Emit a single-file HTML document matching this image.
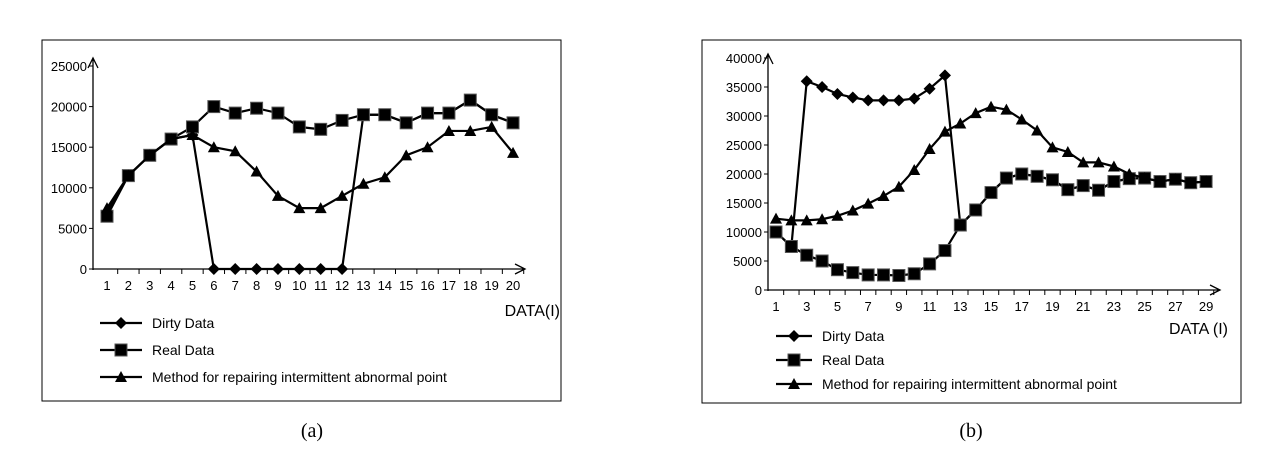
<!DOCTYPE html>
<html><head><meta charset="utf-8"><style>
body{margin:0;background:#fff;width:1283px;height:450px;overflow:hidden}
svg text{font-family:"Liberation Sans",sans-serif;fill:#000}
</style></head><body>
<svg id="s" width="1283" height="450" xmlns="http://www.w3.org/2000/svg">
<rect x="42" y="40" width="519" height="361" fill="none" stroke="#000" stroke-width="1"/>
<rect x="702" y="40" width="539" height="363" fill="none" stroke="#000" stroke-width="1"/>
<text x="312" y="437" font-size="20" text-anchor="middle" style="font-family:'Liberation Serif',serif">(a)</text>
<text x="971" y="437" font-size="20" text-anchor="middle" style="font-family:'Liberation Serif',serif">(b)</text>
</svg>
<script>
const aDirty=[7000,11500,14000,16000,16500,0,0,0,0,0,0,0,19000,19000,18000,19200,19200,20800,19000,18000];
const aReal=[6500,11500,14000,16000,17500,20000,19200,19800,19200,17500,17200,18300,19000,19000,18000,19200,19200,20800,19000,18000];
const aMethod=[7500,11500,14000,16000,16500,15000,14500,12000,9000,7500,7500,9000,10500,11300,14000,15000,17000,17000,17500,14300];
const aTicks=[0,5000,10000,15000,20000,25000];
const bDirty=[10000,7500,36000,35000,33800,33200,32700,32700,32700,33000,34700,37000,11200,13800,16800,19300,20000,19600,19000,17300,18000,17200,18700,19200,19300,18700,19100,18500,18700];
const bReal=[10000,7500,6000,5000,3500,3000,2600,2600,2500,2800,4500,6800,11200,13800,16800,19300,20000,19600,19000,17300,18000,17200,18700,19200,19300,18700,19100,18500,18700];
const bMethod=[12300,12000,12000,12200,12800,13700,14900,16200,17800,20700,24300,27300,28700,30500,31600,31100,29400,27500,24600,23800,22000,22000,21300,20000,19300,18700,19100,18500,18700];
const bTicks=[0,5000,10000,15000,20000,25000,30000,35000,40000];
const legendLabels=["Dirty Data","Real Data","Method for repairing intermittent abnormal point"];
const NS="http://www.w3.org/2000/svg";
const svg=document.getElementById('s');
function mk(t,a){const e=document.createElementNS(NS,t);for(const k in a)e.setAttribute(k,a[k]);svg.appendChild(e);return e;}
function marker(kind,x,y,p){
 let e;
 if(kind==='d'){e=mk('polygon',{points:`${x},${y-6} ${x+6},${y} ${x},${y+6} ${x-6},${y}`,fill:'#000'});}
 else if(kind==='s'){e=mk('rect',{x:x-6,y:y-6,width:12,height:12,fill:'#000',stroke:'#555','stroke-width':1});}
 else {e=mk('polygon',{points:`${x},${y-6} ${x+6},${y+5} ${x-6},${y+5}`,fill:'#000'});}
 
 
}
function chart(c){
 const X=i=>c.x0+c.dx*i, Y=v=>c.y0-v*c.sy;
 let ax=mk('path',{d:`M${c.ox},${c.y0+1} V${c.ytop} M${c.ox-5},${c.ytop+10} L${c.ox},${c.ytop} L${c.ox+5},${c.ytop+10} M${c.ox},${c.y0} H${c.xend} M${c.xend-10},${c.y0-5} L${c.xend},${c.y0} L${c.xend-10},${c.y0+5}`,fill:'none',stroke:'#000','stroke-width':1.3});
 
 
 c.ticks.forEach(v=>{
  const t=mk('text',{x:c.ox-6,y:Y(v)+5,'font-size':13,'text-anchor':'end'});t.textContent=v;
  
  
  const l=mk('line',{x1:c.ox-4,x2:c.ox,y1:Y(v),y2:Y(v),stroke:'#000'});
  
  
 });
 const n=c.real.length;
 for(let i=0;i<n;i++){
  const tk=mk('line',{x1:X(i)+c.dx/2,x2:X(i)+c.dx/2,y1:c.y0,y2:c.y0+5,stroke:'#000'});
  
  
  if(i%c.step===0){const t=mk('text',{x:X(i),y:c.y0+21,'font-size':13,'text-anchor':'middle'});t.textContent=i+1;
   
   }
 }
 const xt=mk('text',{x:c.xlx,y:c.xly,'font-size':16,'text-anchor':'end'});xt.textContent=c.xl;
 
 
 [[c.dirty,'d','dirty'],[c.real,'s','real'],[c.method,'t','method']].forEach(([arr,k,nm])=>{
  const pl=mk('polyline',{points:arr.map((v,i)=>X(i)+','+Y(v)).join(' '),fill:'none',stroke:'#000','stroke-width':2.2});
  
  
  arr.forEach((v,i)=>marker(k,X(i),Y(v),c.p+'-'+nm));
 });
 legendLabels.forEach((lb,j)=>{
  const y=c.ly+j*c.lg;
  const l=mk('line',{x1:c.lx,x2:c.lx+c.lw,y1:y,y2:y,stroke:'#000','stroke-width':2.2});
  
  
  marker(['d','s','t'][j],c.lx+c.lw/2,y,c.p+'-legend');
  const t=mk('text',{x:c.lx+c.lw+10,y:y+5,'font-size':14});t.textContent=lb;
  
  
 });
}
chart({p:'a',x0:107,dx:21.37,y0:269,sy:0.00812,ox:93,ytop:58,xend:525,ticks:aTicks,real:aReal,dirty:aDirty,method:aMethod,step:1,xl:'DATA(I)',xlx:560,xly:316,lx:100,lw:42,ly:323,lg:27});
chart({p:'b',x0:776,dx:15.36,y0:290,sy:0.0058,ox:768,ytop:54,xend:1220,ticks:bTicks,real:bReal,dirty:bDirty,method:bMethod,step:2,xl:'DATA (I)',xlx:1228,xly:334,lx:776,lw:36,ly:336,lg:24});
</script>
</body></html>
